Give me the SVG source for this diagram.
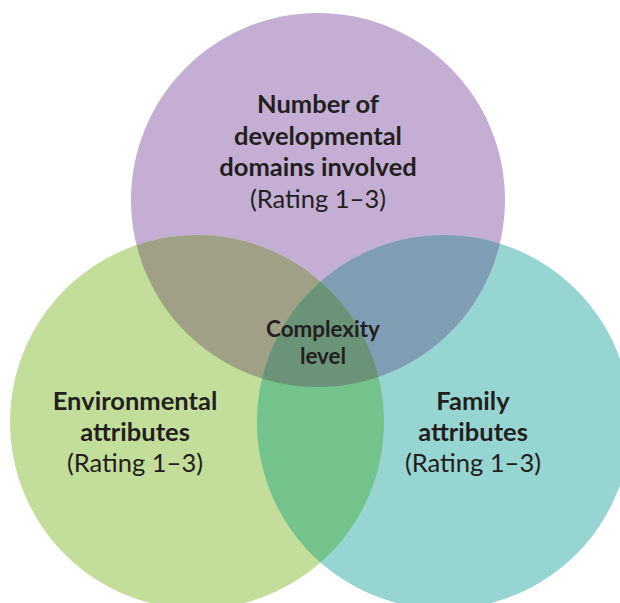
<svg xmlns="http://www.w3.org/2000/svg" width="620" height="603" viewBox="0 0 620 603">
<style>
.t{font-family:Lato,"Liberation Sans",sans-serif;fill:#231f20;text-anchor:middle}
.b{font-weight:bold;font-size:25.5px}
.r{font-weight:normal;font-size:25.5px}
.c{font-weight:bold;font-size:22.4px}
</style>
<defs>
<clipPath id="cP"><circle cx="318" cy="200" r="187"/></clipPath>
<clipPath id="cG"><circle cx="197" cy="422" r="187"/></clipPath>
<clipPath id="cT"><circle cx="444" cy="422" r="187"/></clipPath>
</defs>
<rect width="620" height="603" fill="#ffffff"/>
<g id="purple"><circle cx="318" cy="200" r="187" fill="#c4aed3"/></g>
<g id="green"><circle cx="197" cy="422" r="187" fill="#c3dd9a"/></g>
<g id="teal"><circle cx="444" cy="422" r="187" fill="#97d5d3"/></g>
<g id="overlaps">
<g clip-path="url(#cP)"><circle cx="197" cy="422" r="187" fill="#a0a086"/><circle cx="444" cy="422" r="187" fill="#7f9db3"/></g>
<g clip-path="url(#cG)"><circle cx="444" cy="422" r="187" fill="#74c38c"/></g>
<g clip-path="url(#cP)"><g clip-path="url(#cG)"><circle cx="444" cy="422" r="187" fill="#6a9377"/></g></g>
</g>
<g id="label-top">
<text class="t b" x="318" y="113">Number of</text>
<text class="t b" x="318" y="145">developmental</text>
<text class="t b" x="318" y="176">domains involved</text>
<text class="t r" x="318" y="208">(Rating 1–3)</text>
</g>
<g id="label-center">
<text class="t c" x="323" y="337">Complexity</text>
<text class="t c" x="323" y="364">level</text>
</g>
<g id="label-left">
<text class="t b" x="135" y="410">Environmental</text>
<text class="t b" x="135" y="441">attributes</text>
<text class="t r" x="135" y="472">(Rating 1–3)</text>
</g>
<g id="label-right">
<text class="t b" x="473" y="410">Family</text>
<text class="t b" x="473" y="441">attributes</text>
<text class="t r" x="473" y="472">(Rating 1–3)</text>
</g>
</svg>
